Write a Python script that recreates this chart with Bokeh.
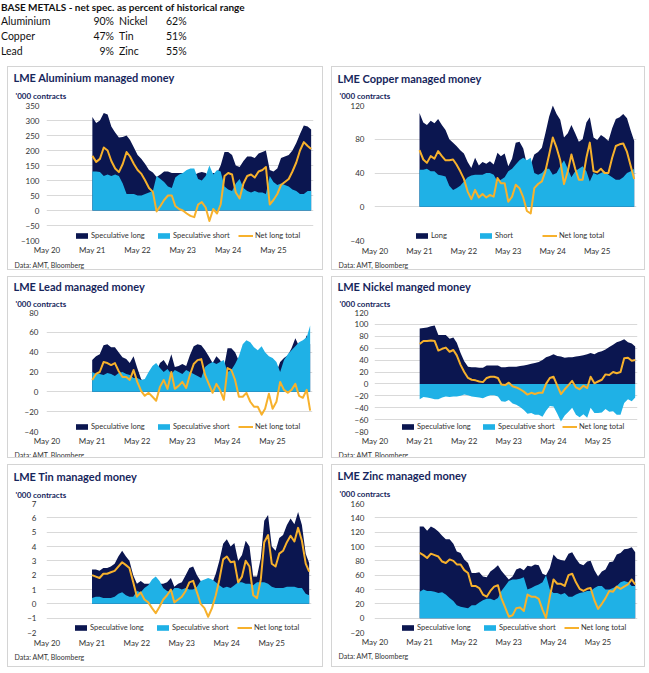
import pandas as pd
from bokeh.plotting import figure
from bokeh.models import Title, Legend, LegendItem, FixedTicker, Range1d, Div, DatetimeTickFormatter
from bokeh.layouts import column, row
from bokeh.embed import file_html
from bokeh.resources import INLINE

# ---------------- data ----------------
header_left_names = ["Aluminium", "Copper", "Lead"]
header_left_pct = ["90%", "47%", "9%"]
header_right_names = ["Nickel", "Tin", "Zinc"]
header_right_pct = ["62%", "51%", "55%"]

months = pd.date_range("2021-05-01", "2026-03-01", freq="MS")
year_ticks = ["2020-05-01", "2021-05-01", "2022-05-01", "2023-05-01", "2024-05-01", "2025-05-01"]

al_net = [182, 162, 172, 210, 200, 165, 140, 128, 155, 195,
          180, 155, 135, 122, 100, 75, 62, -3, 15, 35,
          50, 50, 15, 5, 0, -10, -18, -22, 20, 28,
          10, -35, 5, -10, 20, 115, 125, 120, 60, 40,
          90, 115, 120, 110, 130, 135, 145, 20, 35, 55,
          85, 95, 105, 130, 160, 200, 228, 215, 205]
al_short = [130, 130, 128, 115, 120, 115, 120, 115, 90, 55,
            55, 55, 50, 50, 55, 60, 65, 115, 105, 95,
            80, 75, 110, 120, 125, 135, 140, 140, 105, 100,
            115, 150, 120, 135, 130, 80, 70, 65, 90, 105,
            75, 65, 60, 65, 60, 60, 55, 115, 95, 85,
            90, 85, 80, 70, 65, 55, 55, 65, 65]

cu_net = [67, 56, 52, 60, 57, 66, 60, 55, 55, 56,
          50, 42, 33, 18, 9, 20, 11, 15, 11, 14,
          12, 34, 28, 28, 6, 12, 26, 22, 11, -5,
          -8, 22, 27, 30, 42, 62, 82, 70, 55, 27,
          42, 62, 45, 32, 32, 58, 76, 42, 41, 45,
          40, 40, 58, 72, 74, 75, 65, 48, 33]
cu_short = [44, 44, 45, 42, 42, 38, 37, 36, 25, 20,
            22, 25, 30, 35, 37, 38, 38, 38, 40, 40,
            38, 30, 32, 35, 42, 45, 50, 55, 58, 55,
            58, 40, 38, 40, 45, 45, 38, 40, 48, 55,
            45, 35, 42, 45, 48, 42, 30, 40, 38, 40,
            42, 38, 35, 32, 32, 35, 40, 42, 45]

pb_net = [12, 18, 20, 30, 29, 27, 29, 21, 15, 15,
          12, 22, 10, 1, -4, -1, -5, -9, 5, 12,
          3, 20, 3, 6, 10, 4, 17, 28, 32, 33,
          17, 8, -1, 8, 2, -8, 24, 22, 12, -5,
          -5, -1, -10, -15, -15, -23, -17, -2, -17, -10,
          10, 2, -1, 2, 8, -4, -6, 2, -19]
pb_short = [20, 18, 18, 17, 19, 18, 16, 19, 20, 18,
            17, 14, 14, 12, 13, 20, 26, 29, 24, 20,
            23, 18, 22, 20, 18, 22, 20, 18, 16, 14,
            25, 28, 30, 28, 30, 32, 20, 22, 28, 36,
            48, 52, 50, 45, 42, 46, 40, 36, 34, 30,
            20, 32, 38, 42, 46, 50, 52, 55, 67]

ni_net = [67, 72, 72, 73, 72, 56, 59, 61, 54, 57,
          48, 32, 20, 10, 7, 6, 4, 3, 10, 12,
          12, 10, -1, -2, 2, -4, -6, -9, -13, -18,
          -15, -17, -15, -15, 0, 10, 12, -3, -17, -9,
          -2, 5, -6, -9, -3, -7, 12, 1, 4, 7,
          16, 15, 20, 18, 20, 43, 44, 39, 40]
ni_short = [26, 22, 23, 24, 26, 26, 23, 21, 22, 21,
            21, 20, 18, 19, 21, 22, 23, 24, 21, 19,
            19, 21, 29, 30, 27, 33, 35, 39, 44, 50,
            49, 52, 52, 55, 45, 37, 38, 50, 63, 53,
            47, 40, 52, 56, 51, 57, 40, 49, 49, 48,
            42, 47, 46, 52, 52, 32, 26, 29, 23]

sn_net = [2.0, 1.9, 1.8, 2.1, 2.1, 2.2, 2.3, 2.6, 2.9, 2.7,
          2.5, 1.5, 0.5, 0.8, 0.3, 0.1, -0.3, -0.65, -0.2, 0.3,
          0.6, 1.0, 0.1, 0.3, 0.5, 0.9, 1.5, 1.6, 0.8, 0.0,
          -0.3, -0.9, -0.3, 0.6, 1.7, 3.1, 3.3, 2.9, 2.95, 1.5,
          1.9, 3.0, 2.6, 0.6, 0.4, 1.7, 4.3, 4.8, 2.8, 2.6,
          3.5, 3.7, 4.3, 4.75, 4.35, 5.3, 4.4, 2.8, 2.25]
sn_short = [0.4, 0.5, 0.5, 0.4, 0.4, 0.4, 0.5, 0.7, 0.8, 0.6,
            0.5, 0.5, 0.9, 0.8, 1.1, 1.3, 1.7, 1.9, 1.6, 1.1,
            0.9, 0.8, 1.1, 1.1, 1.0, 1.1, 1.0, 1.0, 1.2, 1.6,
            1.7, 1.8, 1.7, 1.5, 1.3, 1.1, 1.2, 1.1, 1.3, 1.5,
            1.5, 1.4, 1.4, 1.3, 1.5, 1.5, 1.5, 1.4, 1.2, 1.1,
            1.1, 1.1, 1.2, 1.2, 1.2, 1.1, 1.1, 0.7, 0.6]

zn_net = [91, 88, 84, 90, 88, 86, 79, 77, 82, 80,
          75, 75, 67, 63, 45, 45, 42, 33, 30, 38,
          44, 46, 28, 15, 2, 4, 14, 15, 10, 33,
          30, 30, 27, 12, 0, 30, 54, 48, 48, 45,
          60, 62, 50, 41, 38, 41, 42, 25, 13, 20,
          28, 38, 37, 44, 41, 44, 47, 54, 47]
zn_short = [37, 40, 38, 38, 37, 35, 36, 33, 28, 24,
            18, 16, 15, 14, 18, 18, 22, 25, 27, 27,
            25, 28, 38, 45, 52, 54, 54, 55, 57, 40,
            42, 45, 47, 50, 60, 40, 35, 35, 33, 35,
            30, 30, 33, 35, 36, 38, 38, 42, 45, 45,
            40, 40, 42, 45, 50, 52, 50, 45, 45]

al_ticks = [-100, -50, 0, 50, 100, 150, 200, 250, 300, 350]
cu_ticks = [-40, 0, 40, 80, 120]
pb_ticks = [-40, -20, 0, 20, 40, 60, 80]
ni_ticks = [-80, -60, -40, -20, 0, 20, 40, 60, 80, 100, 120]
sn_ticks = [-2, -1, 0, 1, 2, 3, 4, 5, 6, 7]
zn_ticks = [-20, 0, 20, 40, 60, 80, 100, 120, 140, 160]

spec_labels = ["Speculative long", "Speculative short", "Net long total"]
cu_labels = ["Long", "Short", "Net long total"]

# ---------------- style ----------------
NAVY = "#0b1650"
LIGHT = "#1fb1e6"
ORANGE = "#f7b12c"
TITLE_C = "#17265c"
GRID = "#d9d9d9"
TEXT = "#333333"
FONT = "Lato"

X0 = pd.Timestamp("2020-04-26")
X1 = pd.Timestamp("2026-03-20")
XT = [pd.Timestamp(d).value / 1e6 for d in year_ticks]
FMT = "%b %y"


def panel(title, net, short, yticks, labels, W, H, L, R, T, B, lw,
          neg_short=False, leg_x=28, ystand=7, xstand=4, sub_so=9, tit_so=1, src_so=0):
    long_ = [n + s for n, s in zip(net, short)]
    short_plot = [-s for s in short] if neg_short else short
    p = figure(width=W, height=H, x_axis_type="datetime",
               x_range=Range1d(X0, X1), y_range=Range1d(yticks[0], yticks[-1]),
               output_backend="svg", toolbar_location=None, tools="",
               min_border_left=L, min_border_right=R,
               min_border_top=T, min_border_bottom=B,
               border_fill_color=None, background_fill_color=None,
               outline_line_color=None, margin=(0, 0, 0, 0),
               styles={"border": "1px solid #d4d4d4", "box-sizing": "border-box"})
    r1 = p.varea(x=months, y1=0, y2=long_, fill_color=NAVY)
    r2 = p.varea(x=months, y1=0, y2=short_plot, fill_color=LIGHT)
    r3 = p.line(x=months, y=net, line_color=ORANGE, line_width=2, line_join="round")

    p.yaxis.ticker = FixedTicker(ticks=yticks)
    p.ygrid.ticker = FixedTicker(ticks=yticks)
    p.ygrid.grid_line_color = GRID
    p.xgrid.grid_line_color = None
    p.xaxis.ticker = FixedTicker(ticks=XT)
    p.xaxis.formatter = DatetimeTickFormatter(years=FMT, months=FMT, days=FMT,
                                              hours=FMT, minutes=FMT)
    for ax in (p.xaxis[0], p.yaxis[0]):
        ax.axis_line_color = None
        ax.major_tick_line_color = None
        ax.minor_tick_line_color = None
        ax.major_tick_out = 0
        ax.major_tick_in = 0
        ax.minor_tick_out = 0
        ax.minor_tick_in = 0
        ax.major_label_text_font = FONT
        ax.major_label_text_font_size = "8px"
        ax.major_label_text_color = TEXT
    p.xaxis.major_label_standoff = xstand
    p.yaxis.major_label_standoff = ystand

    leg = Legend(items=[LegendItem(label=labels[0], renderers=[r1]),
                        LegendItem(label=labels[1], renderers=[r2]),
                        LegendItem(label=labels[2], renderers=[r3])],
                 location=(leg_x, 0), orientation="horizontal",
                 glyph_width=15, glyph_height=7, label_height=7,
                 label_width=lw, label_standoff=2, spacing=4,
                 padding=0, margin=0, border_line_color=None,
                 background_fill_alpha=0,
                 label_text_font=FONT, label_text_font_size="7.5px",
                 label_text_color=TEXT)
    p.add_layout(leg)

    p.add_layout(Title(text="'000 contracts", align="left", offset=7 - L, standoff=sub_so,
                       text_font=FONT, text_font_size="8px", text_font_style="bold",
                       text_color=TITLE_C), "above")
    p.add_layout(Title(text=title, align="left", offset=5 - L, standoff=tit_so,
                       text_font=FONT, text_font_size="11px", text_font_style="bold",
                       text_color=TITLE_C), "above")
    p.add_layout(Title(text="Data: AMT, Bloomberg", align="left", offset=6 - L, standoff=src_so,
                       text_font=FONT, text_font_size="7px", text_font_style="normal",
                       text_color=TEXT), "below")
    return p


LW, RW = 316, 314
p_al = panel("LME Aluminium managed money", al_net, al_short, al_ticks, spec_labels,
             LW, 204, 38, 11, 38, 31, 61, xstand=4, sub_so=9, tit_so=1, src_so=3)
p_cu = panel("LME Copper managed money", cu_net, cu_short, cu_ticks, cu_labels,
             RW, 204, 42, 10, 38, 30, 43, leg_x=40, ystand=10, xstand=5,
             sub_so=9, tit_so=0, src_so=0)
p_pb = panel("LME Lead managed money", pb_net, pb_short, pb_ticks, spec_labels,
             LW, 182, 38, 12, 34, 28, 61, ystand=8, xstand=4, sub_so=8, tit_so=0)
p_ni = panel("LME Nickel manged money", ni_net, ni_short, ni_ticks, spec_labels,
             RW, 182, 42, 9, 35, 26, 60, neg_short=True, leg_x=26, ystand=6,
             xstand=4, sub_so=8, tit_so=0)
p_sn = panel("LME Tin managed money", sn_net, sn_short, sn_ticks, spec_labels,
             LW, 203, 38, 13, 38, 36, 61, leg_x=27, ystand=10, xstand=5,
             sub_so=8, tit_so=1)
p_zn = panel("LME Zinc managed money", zn_net, zn_short, zn_ticks, spec_labels,
             RW, 203, 42, 9, 38, 35, 61, leg_x=26, ystand=10, xstand=4,
             sub_so=9, tit_so=1)

# ---------------- header ----------------
rows_html = ""
for i in range(3):
    top = 15 + 15 * i
    rows_html += (
        f'<div style="position:absolute;left:0;top:{top}px;">{header_left_names[i]}</div>'
        f'<div style="position:absolute;left:60px;width:53px;text-align:right;top:{top}px;">{header_left_pct[i]}</div>'
        f'<div style="position:absolute;left:118px;top:{top}px;">{header_right_names[i]}</div>'
        f'<div style="position:absolute;left:165px;top:{top}px;">{header_right_pct[i]}</div>'
    )
header_html = (
    '<div style="position:relative;left:1px;top:0px;width:620px;height:58px;'
    'font-family:Lato;font-size:10.5px;color:#111;line-height:12px;white-space:nowrap;">'
    '<div style="position:absolute;left:0;top:1px;font-weight:bold;font-size:10px;">'
    'BASE METALS - net spec. as percent of historical range</div>'
    + rows_html + '</div>'
)
header = Div(text=header_html, width=640, height=60, margin=(0, 0, 0, 0))

layout = column(header,
                row(p_al, p_cu, spacing=8, margin=(0, 0, 0, 7)),
                row(p_pb, p_ni, spacing=8, margin=(0, 0, 0, 7)),
                row(p_sn, p_zn, spacing=8, margin=(0, 0, 0, 7)),
                spacing=6)

open("out.html", "w").write(file_html(layout, INLINE))
